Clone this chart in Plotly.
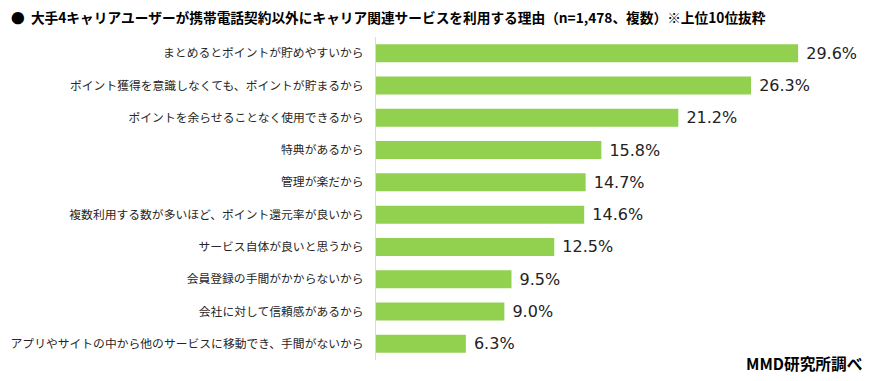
import plotly.graph_objects as go

categories = [
    "まとめるとポイントが貯めやすいから",
    "ポイント獲得を意識しなくても、ポイントが貯まるから",
    "ポイントを余らせることなく使用できるから",
    "特典があるから",
    "管理が楽だから",
    "複数利用する数が多いほど、ポイント還元率が良いから",
    "サービス自体が良いと思うから",
    "会員登録の手間がかからないから",
    "会社に対して信頼感があるから",
    "アプリやサイトの中から他のサービスに移動でき、手間がないから",
]
values = [29.6, 26.3, 21.2, 15.8, 14.7, 14.6, 12.5, 9.5, 9.0, 6.3]
title_text = "●  大手4キャリアユーザーが携帯電話契約以外にキャリア関連サービスを利用する理由（n=1,478、複数）※上位10位抜粋"
source_text = "MMD研究所調べ"

font_family = "Noto Sans CJK JP, Noto Sans, sans-serif"

# page body has an 8px margin, so the figure is drawn 8px smaller and offset
OFF = 8
W, H = 872 - OFF, 381 - OFF
L, R, T, B = 376 - OFF, 10, 37 - OFF, 381 - 360
pw, ph = W - L - R, H - T - B

fig = go.Figure(go.Bar(
    y=categories,
    x=values,
    orientation="h",
    marker=dict(color="#92D050", line=dict(width=0)),
    width=0.557,
    text=[f" {v:.1f}%" for v in values],
    textposition="outside",
    constraintext="none",
    textfont=dict(size=16, color="#222222", family="DejaVu Sans, sans-serif"),
    cliponaxis=False,
))

fig.update_layout(
    width=W, height=H,
    margin=dict(l=L, r=R, t=T, b=B, autoexpand=False),
    paper_bgcolor="white", plot_bgcolor="white",
    showlegend=False,
    font=dict(family=font_family, color="#262626"),
    title=dict(
        text="<b>" + title_text + "</b>",
        xref="container", yref="container",
        x=3 / W, y=1 - (18.5 - OFF) / H,
        xanchor="left", yanchor="middle",
        font=dict(size=13.7, color="#000000", family=font_family),
    ),
    xaxis=dict(range=[0, 34.08], visible=False, fixedrange=True, automargin=False),
    yaxis=dict(
        autorange="reversed",
        automargin=False,
        showline=True, linecolor="#d9d9d9", linewidth=1,
        showgrid=False, ticks="",
        tickfont=dict(size=11.8, color="#262626"),
        ticklabelstandoff=9,
        zeroline=False,
    ),
)
fig.add_annotation(
    text="<b>" + source_text + "</b>",
    xref="paper", yref="paper", x=(865 - OFF - L) / pw, y=-((363 - OFF) - (T + ph)) / ph,
    xanchor="right", yanchor="middle", showarrow=False,
    font=dict(size=15.7, color="#000000", family=font_family),
)

fig.write_html("out.html")
